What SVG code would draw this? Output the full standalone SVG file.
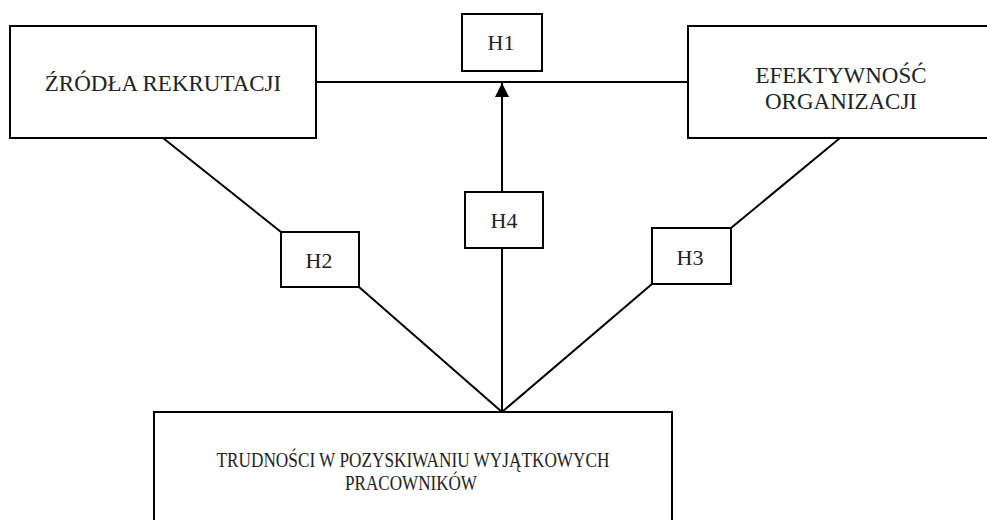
<svg xmlns="http://www.w3.org/2000/svg" width="987" height="520" viewBox="0 0 987 520">
<style>
.box{fill:#fff;stroke:#000;stroke-width:2}
.t{font-family:"Liberation Serif","Times New Roman",serif;font-size:23px;fill:#222;text-anchor:middle}
.h{font-size:22px}
.s{font-size:22px}
.c{stroke:#000;stroke-width:2;fill:none}
</style>
<defs>
<marker id="arrh" viewBox="0 0 10 10" markerWidth="15" markerHeight="14" refX="10" refY="5" orient="auto" markerUnits="userSpaceOnUse">
<path d="M0,0 L10,5 L0,10 z" fill="#000"/>
</marker>
</defs>
<g id="connectors">
<line class="c" x1="316" y1="82" x2="688" y2="82"/>
<line class="c" x1="502" y1="192" x2="502" y2="83" marker-end="url(#arrh)"/>
<line class="c" x1="502" y1="248" x2="502" y2="412"/>
<line class="c" x1="163" y1="138" x2="281" y2="232"/>
<line class="c" x1="359" y1="287" x2="502" y2="412"/>
<line class="c" x1="840" y1="138" x2="731" y2="228"/>
<line class="c" x1="652" y1="284" x2="502" y2="412"/>
</g>
<g id="zrodla">
<rect class="box" x="10" y="26" width="306" height="112"/>
<text class="t" x="163" y="91">ŹRÓDŁA REKRUTACJI</text>
</g>
<g id="efektywnosc">
<rect class="box" x="688" y="26" width="310" height="112"/>
<text class="t" x="841" y="83">EFEKTYWNOŚĆ</text>
<text class="t" x="841" y="109">ORGANIZACJI</text>
</g>
<g id="trudnosci">
<rect class="box" x="154" y="412" width="518" height="120"/>
<text class="t s" x="413" y="467" textLength="393" lengthAdjust="spacingAndGlyphs">TRUDNOŚCI W POZYSKIWANIU WYJĄTKOWYCH</text>
<text class="t s" x="411" y="490" textLength="132" lengthAdjust="spacingAndGlyphs">PRACOWNIKÓW</text>
</g>
<g id="h1">
<rect class="box" x="462" y="14" width="80" height="57"/>
<text class="t h" x="501" y="50">H1</text>
</g>
<g id="h4">
<rect class="box" x="465" y="192" width="78" height="56"/>
<text class="t h" x="504" y="228">H4</text>
</g>
<g id="h2">
<rect class="box" x="281" y="232" width="78" height="55"/>
<text class="t h" x="319" y="268">H2</text>
</g>
<g id="h3">
<rect class="box" x="652" y="228" width="79" height="56"/>
<text class="t h" x="690" y="265">H3</text>
</g>
</svg>
